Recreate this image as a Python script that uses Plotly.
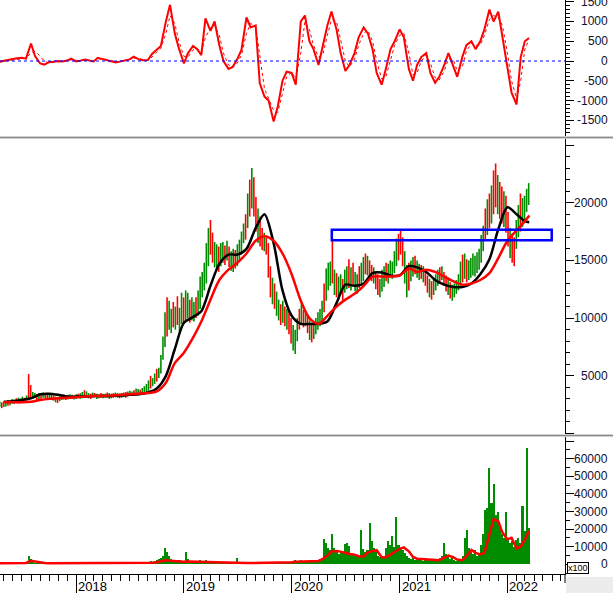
import pandas as pd
import plotly.graph_objects as go

# ---------------- data ----------------
week_start = "2017-04-17"
price_low = [
    2300,2200,2300,2350,2400,2450,2600,2550,2650,2700,
    2750,2800,2750,2850,2900,3000,3000,3050,2900,3000,
    3000,3100,3050,3000,2950,2900,2850,2700,2650,2800,
    2900,2950,2900,2950,3000,3000,2950,3000,3050,3000,
    3050,3100,3100,3050,3000,3100,3150,3000,3050,3100,
    3050,3100,3100,3000,3050,3100,3150,3100,3050,3100,
    3150,3100,3200,3250,3300,3300,3350,3300,3350,3400,
    3500,3600,3700,3900,4100,4300,4500,4800,5200,6400,
    7500,8400,9000,8700,9200,9000,9400,8800,9500,9600,
    9800,10000,9600,9800,9700,10000,10200,10800,11800,12400,
    13000,14500,15500,14800,14400,14200,14000,14500,14800,14600,
    15000,14400,14100,14000,14300,14500,15000,15500,16500,16800,
    17800,18800,19500,18800,17500,16500,16200,15900,15800,15500,
    13500,11800,11200,10800,10200,9800,9400,9600,9300,9000,
    8600,7800,7200,6900,8000,9000,9400,9200,9300,8700,
    8100,7900,8200,8600,9000,9300,9500,10500,11500,12400,
    12800,13000,12000,11800,11600,12000,11500,12200,12500,12600,
    12400,12800,12300,12100,12600,13000,13200,13800,13700,13500,
    13200,13000,12500,12000,11800,12300,12700,13200,13000,13500,
    13400,13900,14500,15000,15500,14500,13000,11800,12400,13200,
    13600,13800,13500,13300,13400,13100,12800,12200,11800,11600,
    12000,12400,12800,13200,13300,12800,12300,12000,11700,11500,
    11800,12100,12400,12800,13100,13400,13100,13300,13500,13700,
    13600,13900,14200,14800,15800,16800,17200,17800,18200,19000,
    19600,19000,18600,18200,17900,17400,16200,15200,14800,14500,
    16000,17000,17500,17900,18500,19200,19800,
]
price_high = [
    2800,2700,2800,2750,2900,2800,3000,2950,3050,3100,
    3050,3200,3100,3300,5150,4200,3600,3500,3400,3500,
    3450,3550,3500,3400,3400,3350,3300,3200,3150,3300,
    3350,3400,3300,3350,3400,3350,3300,3400,3450,3500,
    3600,3750,3650,3500,3450,3550,3500,3450,3400,3500,
    3450,3450,3550,3500,3450,3500,3550,3500,3450,3500,
    3550,3600,3650,3700,3650,3750,3900,3850,3800,3950,
    4100,4300,4600,5000,4800,5200,5600,5700,6800,8400,
    10500,11800,11500,10800,11400,11000,11900,10900,12200,11800,
    12400,12200,11600,11800,11400,11800,12400,13600,14000,14800,
    16500,17800,18500,17400,16600,16400,16200,16500,16600,16300,
    16700,16200,15800,16000,15900,16400,16800,17500,18200,19000,
    20800,22000,23000,22200,20500,19500,18800,17800,17400,17000,
    16500,14500,13500,13000,12300,11600,11200,11500,11000,10800,
    10500,10000,9400,9000,10000,10800,11200,10700,10500,10200,
    9800,9600,9700,10000,10500,10800,11500,13000,14300,14800,
    14900,16800,14200,13900,13600,13800,13400,14200,14500,15100,
    14400,14800,14000,13800,14500,14800,15300,15600,15400,15000,
    14600,14400,14000,13800,13400,14200,14500,14800,14700,15000,
    14900,15800,16900,17300,17700,17000,15800,14600,14800,15000,
    15300,15400,15000,14700,14600,14500,14200,13700,13400,13200,
    13500,13800,14200,14400,14500,14000,13700,13500,13100,12900,
    13000,13300,13800,14900,15500,15600,15100,15000,15200,15600,
    15400,15700,16000,17200,18000,19500,20300,20800,21500,22800,
    23400,22400,21800,21400,21000,20600,19200,17800,17300,17000,
    18500,19800,20800,20400,20600,21200,21700,
]
candle_dir = (
    "GRGGRGGGRG" "GGRGRRGGRG" "RGGRGGRGRG" "GGRGGRGGRG" "GRGGRGRGGR"
    "GGRGGRGGRG" "GRGGGRGGRG" "GGGRGGRGGG" "GRGGRGRGGR" "GGRGGRGGGG"
    "GGRRGGRGGR" "GRGGRGGGGR" "GRGRRGRRGR" "RRGRGGRGRG" "RRGGGRGRGR"
    "GRGGGGGRGG" "GRGRGGRGGR" "GRGGRGGRGR" "RGRRGGGRGG" "GGGRRRGGRG"
    "GRGGRGRRGR" "GGGRGRRGRG" "GGGGRGRGGG" "GGGGGRGRGR" "RGRRGRRGRR"
    "GGRGGGG"
)
volume = [
    800,600,900,700,1000,600,800,700,1200,900,
    700,800,1100,1500,5000,3000,1500,1000,800,700,
    900,600,700,800,500,600,700,900,600,500,
    700,600,800,500,600,700,500,600,900,700,
    800,1000,700,600,500,700,600,500,800,600,
    500,600,700,500,600,800,700,600,500,700,
    600,800,900,700,600,800,1000,900,700,800,
    1200,1000,1500,1800,1500,2000,2500,3000,3500,5000,
    9500,7000,4500,3000,2500,2000,1800,2200,1500,2000,
    7000,3000,1500,1200,1800,1400,1200,2500,1800,1500,
    2500,1800,1500,1200,1000,900,1100,800,1000,900,
    700,800,900,700,800,3500,1000,900,800,1200,
    1000,1500,1200,900,800,700,1000,800,700,600,
    900,1200,1000,800,700,900,600,800,700,900,
    1000,1200,1500,2500,2000,1500,2500,1800,1500,1200,
    1800,2500,2000,1500,2200,2800,3500,14200,12000,9500,
    8000,17400,9000,7500,6000,7000,6500,11500,12000,10500,
    6000,5500,4500,5000,4000,19300,8500,7000,8000,23700,
    13000,9000,7500,5000,4000,3500,5000,9000,13000,11000,
    16000,10000,26900,11000,9000,8000,6600,4700,3500,2800,
    3800,2500,3000,2200,3500,2000,2800,2400,3000,2000,
    2600,1800,2500,3500,5000,12300,5700,4000,2800,3500,
    2500,2000,3000,2400,4500,15000,19300,9500,7000,5700,
    8000,4500,6600,11000,17000,31000,32000,55000,35000,45800,
    28000,30000,21000,17000,15000,30000,15000,12000,13000,10000,
    14000,15000,12000,33000,19000,66300,20800,
]

ma_start, ma_end_extra = "2017-05-01", "2022-03-16"
ma_fast = [2750,2800,2900,3050,3400,3450,3350,3200,
           3200,3200,3250,3250,3250,3300,3350,3400,3550,3900,5000,7300,
           9600,10100,10600,12800,14700,15500,15500,16000,17800,19000,16500,12400,
           10200,9500,9500,9500,9700,11300,12900,12800,13000,13900,13950,13700,
           13700,14500,14400,14000,13300,12900,12700,12700,13000,13800,15100,17700,
           19600,19000,18400,18300]
ma_slow = [2700,2700,2700,2750,2900,3000,3050,3100,
           3150,3200,3250,3250,3300,3350,3400,3450,3500,3650,4400,6100,
           7000,8300,9700,11600,13300,14200,14800,15600,16700,17100,16700,15600,
           13800,11500,10000,9500,10200,11000,11600,12100,12800,13600,13600,13600,
           13700,14300,14000,14200,14000,13600,13200,12900,13000,13300,13900,15200,
           16700,17600,18400,18900]

half_month_start, half_month_end = "2017-04-15", "2022-03-15"
vol_ma = [600,600,600,600,650,700,800,2000,1600,900,700,600,600,600,600,600,600,
          600,600,550,550,500,500,550,550,600,600,600,600,550,550,600,600,700,900,1200,1800,2300,2000,1700,1500,
          1400,1600,1500,1400,1400,1300,1200,1100,900,850,800,800,800,750,700,750,800,750,700,700,700,750,900,1000,
          1200,1400,1500,1600,1700,1800,1900,3000,4900,7300,7600,7200,6300,5900,5500,4600,4500,6800,7500,8000,4000,4000,5500,7200,
          8800,9600,7400,4200,3200,3000,2900,2800,2600,2300,3800,5000,4000,2700,2300,4500,8200,6500,5600,6500,17000,25600,24500,18000,
          14200,15000,9000,10000,14000,19000]
osc_main = [-20,10,35,50,70,80,60,440,120,-60,-90,-30,-20,0,-10,10,60,
            -10,10,40,10,-10,80,50,30,0,-40,-10,20,40,110,40,20,25,180,280,380,1000,1420,700,320,
            -60,200,380,300,150,1080,760,1000,400,0,-200,-150,50,280,1100,850,900,-565,-900,-1000,-1530,-1150,-500,-270,
            -300,-600,1000,1150,500,300,-100,400,900,1250,800,200,-250,-100,200,600,850,700,300,-300,-600,-200,300,500,
            800,600,-200,-500,-100,100,200,-300,-550,-400,-100,200,-100,-400,100,400,500,300,500,800,1300,1000,1250,600,
            -200,-800,-1100,100,500,580]
osc_signal = [-20,-5,15,35,55,70,70,200,250,120,0,-50,-40,-15,-5,0,30,
              20,5,25,25,5,40,60,40,15,-15,-20,5,30,70,70,35,25,100,220,320,700,1150,950,500,
              120,100,280,320,220,600,850,900,650,200,-100,-170,-50,150,700,950,880,150,-700,-950,-1250,-1300,-800,-400,
              -280,-450,200,1000,800,400,100,150,650,1050,1000,500,0,-150,50,400,700,780,500,0,-450,-400,50,400,
              650,700,200,-350,-300,0,150,-50,-420,-480,-250,50,50,-250,-150,250,450,400,400,650,1050,1150,1100,900,
              200,-500,-950,-500,300,540]

zone_start, zone_end = "2020-05-16", "2022-05-31"
zone_low, zone_high = 16750, 17650

year_labels = ["2018", "2019", "2020", "2021", "2022"]
osc_ticks = [-1500, -1000, -500, 0, 500, 1000, 1500]
price_ticks = [5000, 10000, 15000, 20000]
vol_ticks = [0, 10000, 20000, 30000, 40000, 50000, 60000]

# ---------------- build ----------------
n = len(price_low)
weeks = pd.date_range(week_start, periods=n, freq="7D")
ma_dates = pd.date_range(ma_start, periods=len(ma_fast) - 1, freq="MS").append(pd.DatetimeIndex([ma_end_extra]))
half_dates = pd.date_range(half_month_start, half_month_end, freq="SMS")

GREEN = "#008c00"
RED = "#ff0000"
DAY = 86400000
FONT = "Liberation Sans, Arial, sans-serif"

fig = go.Figure()

# oscillator panel (y)
fig.add_trace(go.Scatter(x=half_dates, y=osc_signal, mode="lines", yaxis="y",
                         line=dict(color=RED, width=1, dash="dot"), hoverinfo="skip"))
fig.add_trace(go.Scatter(x=half_dates, y=osc_main, mode="lines", yaxis="y",
                         line=dict(color=RED, width=2), hoverinfo="skip"))

# price panel (y2): high-low range segments, coloured by candle direction
for flag, col in (("G", GREEN), ("R", RED)):
    xs, ys = [], []
    for i in range(n):
        if candle_dir[i] == flag:
            xs += [weeks[i], weeks[i], None]
            ys += [price_low[i], price_high[i], None]
    fig.add_trace(go.Scatter(x=xs, y=ys, mode="lines", yaxis="y2", connectgaps=False,
                             line=dict(color=col, width=1.6), hoverinfo="skip"))
fig.add_trace(go.Scatter(x=ma_dates, y=ma_fast, mode="lines", yaxis="y2",
                         line=dict(color="#000000", width=2.5, shape="spline", smoothing=0.8), hoverinfo="skip"))
fig.add_trace(go.Scatter(x=ma_dates, y=ma_slow, mode="lines", yaxis="y2",
                         line=dict(color=RED, width=2.5, shape="spline", smoothing=0.8), hoverinfo="skip"))

# volume panel (y3)
fig.add_trace(go.Bar(x=weeks, y=volume, yaxis="y3", marker=dict(color=GREEN, line=dict(width=0)),
                     width=7 * DAY, hoverinfo="skip"))
fig.add_trace(go.Scatter(x=half_dates, y=vol_ma, mode="lines", yaxis="y3",
                         line=dict(color=RED, width=2.5), hoverinfo="skip"))

H = 574.0  # plot-area height in px
def py(p):
    return (H - p) / H

yax_common = dict(side="right", anchor="x", showline=True, linecolor="black", linewidth=1,
                  ticks="outside", ticklen=8, tickcolor="black", showticklabels=False,
                  showgrid=False, zeroline=False, fixedrange=True)

fig.update_layout(
    width=613, height=593,
    margin=dict(l=0, r=48, t=0, b=19),
    paper_bgcolor="white", plot_bgcolor="white",
    showlegend=False, barmode="overlay", bargap=0,
    xaxis=dict(type="date", range=["2017-04-18", "2022-07-15"], anchor="y3",
               showline=True, linecolor="black", linewidth=1,
               ticks="outside", ticklen=19, tickcolor="black", dtick="M12", tick0="2018-01-01",
               minor=dict(dtick="M1", ticklen=6, ticks="outside", tickcolor="black"),
               showticklabels=False, showgrid=False, fixedrange=True),
    yaxis=dict(domain=[py(136), 1], range=[-1897, 1543], dtick=500, tick0=0,
               minor=dict(dtick=100, ticklen=4, ticks="outside", tickcolor="black"), **yax_common),
    yaxis2=dict(domain=[py(434), py(139)], range=[-43, 25521], dtick=5000, tick0=0,
                minor=dict(dtick=1000, ticklen=4, ticks="outside", tickcolor="black"), **yax_common),
    yaxis3=dict(domain=[0, py(437)], range=[-5511, 72330], dtick=10000, tick0=0,
                minor=dict(dtick=5000, ticklen=4, ticks="outside", tickcolor="black"), **yax_common),
)

shapes = []
shapes.append(dict(type="line", xref="paper", yref="y", x0=0, x1=1, y0=0, y1=0,
                   line=dict(color="#0000ff", width=1, dash="3px,3px")))
shapes.append(dict(type="rect", xref="x", yref="y2", x0=zone_start, x1=zone_end,
                   y0=zone_low, y1=zone_high, line=dict(color="#0000ff", width=2.5)))
RX = 613 / 565.0
for sep in (137.5, 435.5):
    shapes.append(dict(type="line", xref="paper", yref="paper", x0=0, x1=RX, y0=py(sep), y1=py(sep),
                       line=dict(color="#d0d0d0", width=3), layer="above"))
    shapes.append(dict(type="line", xref="paper", yref="paper", x0=0, x1=RX, y0=py(sep), y1=py(sep),
                       line=dict(color="#8c8c8c", width=1), layer="above"))
shapes.append(dict(type="rect", xref="paper", yref="paper", x0=566 / 565.0, x1=RX,
                   y0=py(594), y1=py(577), fillcolor="#ececec", line=dict(width=0)))
shapes.append(dict(type="line", xref="paper", yref="paper", x0=1, x1=1, y0=0, y1=py(583),
                   line=dict(color="black", width=1)))
fig.update_layout(shapes=shapes)

ann = []
LX = 610 / 565.0
lab_font = dict(family=FONT, size=12, color="#101030")
for v in osc_ticks:
    ann.append(dict(x=LX, xref="paper", y=v, yref="y", text=str(v), showarrow=False,
                    xanchor="right", yanchor="middle", font=lab_font))
for v in price_ticks:
    ann.append(dict(x=LX, xref="paper", y=v, yref="y2", text=str(v), showarrow=False,
                    xanchor="right", yanchor="middle", font=lab_font))
for v in vol_ticks:
    ann.append(dict(x=LX, xref="paper", y=v, yref="y3", text=str(v), showarrow=False,
                    xanchor="right", yanchor="middle", font=lab_font))
for yl in year_labels:
    ann.append(dict(x=yl + "-01-01", xref="x", y=py(586), yref="paper", text=yl, showarrow=False,
                    xanchor="left", yanchor="middle", xshift=0,
                    font=dict(family=FONT, size=13, color="black")))
ann.append(dict(x=577.5 / 565.0, xref="paper", y=py(567.5), yref="paper", text="x100", showarrow=False,
                xanchor="center", yanchor="middle", bordercolor="black", borderwidth=1, borderpad=0,
                bgcolor="white", font=dict(family=FONT, size=9, color="black")))
fig.update_layout(annotations=ann)

fig.write_html("out.html", config={"displayModeBar": False, "staticPlot": True},
               post_script="document.body.style.margin='0px';document.body.style.overflow='hidden';")
